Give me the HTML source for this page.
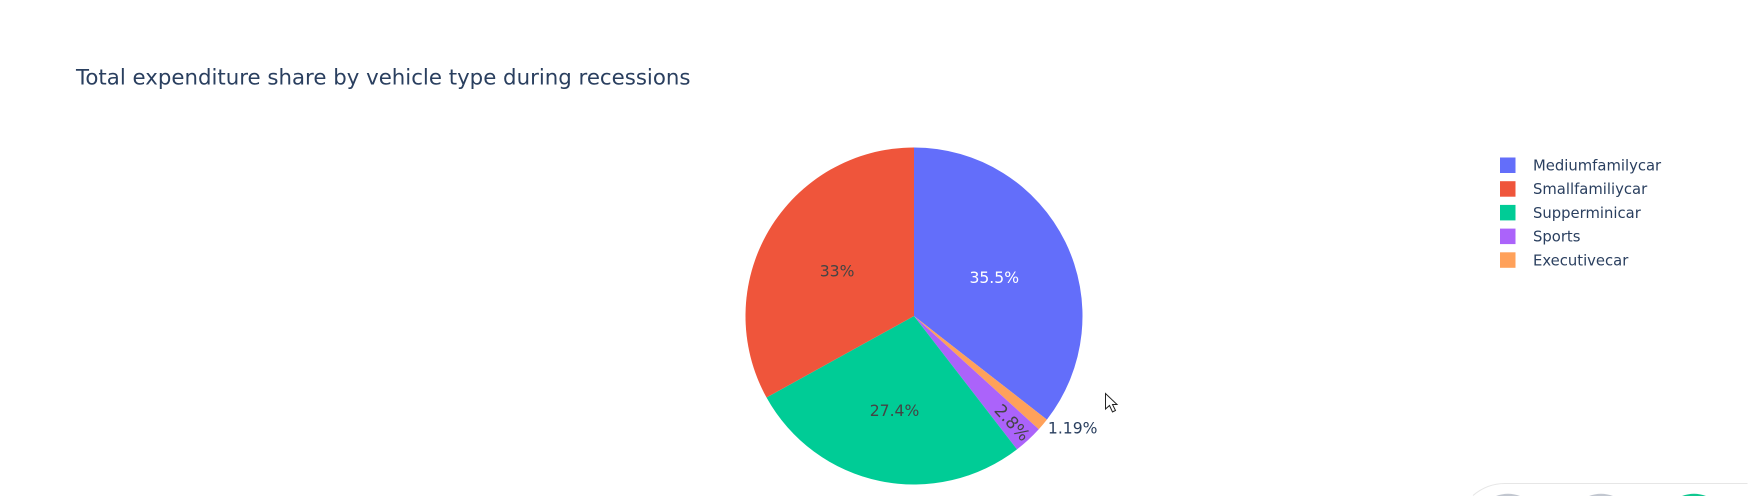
<!DOCTYPE html>
<html lang="en">
<head>
<meta charset="utf-8">
<title>Total expenditure share by vehicle type during recessions</title>
<style>
html,body{margin:0;padding:0;background:#fff;width:1748px;height:496px;overflow:hidden}
svg{display:block}
text{font-family:"DejaVu Sans","Liberation Sans",sans-serif}
</style>
</head>
<body>
<svg id="chart" width="1748" height="496" viewBox="0 0 1748 496" xmlns="http://www.w3.org/2000/svg">
  <text x="76" y="84.5" font-size="21.3" fill="#2a3f5f">Total expenditure share by vehicle type during recessions</text>
  <g id="slices"></g>
  <g id="labels"></g>
  <g id="legend"></g>
  <path d="M1105.5 393.5 L1105.5 409 L1109.5 405.5 L1112.5 412 L1115.5 410.5 L1112.5 404.5 L1117 404.5 Z" fill="#fff" stroke="#222" stroke-width="1"/>
  <g>
    <path d="M1473 495.5 Q1487 483.5 1505 483.5 L1747.5 483.5" fill="none" stroke="#e6e6e6" stroke-width="1"/>
    <path d="M1496 496 Q1508 491.5 1520 496 Z" fill="#c2c7d0"/>
    <path d="M1589 496 Q1601 491.5 1613 496 Z" fill="#c2c7d0"/>
    <path d="M1682 496 Q1694 491.5 1706 496 Z" fill="#10c890"/>
  </g>
</svg>
<script>
const categories = ["Mediumfamilycar", "Executivecar", "Sports", "Supperminicar", "Smallfamiliycar"];
const shares = [35.5, 1.19, 2.8, 27.4, 33];
const shareLabels = ["35.5%", "1.19%", "2.8%", "27.4%", "33%"];
const legendOrder = ["Mediumfamilycar", "Smallfamiliycar", "Supperminicar", "Sports", "Executivecar"];
const colors = {Mediumfamilycar:"#636efa", Smallfamiliycar:"#ef553b", Supperminicar:"#00cc96", Sports:"#ab63fa", Executivecar:"#ffa15a"};

const NS = "http://www.w3.org/2000/svg";
const cx = 914, cy = 316, R = 168.5;
const total = shares.reduce((a, b) => a + b, 0);
const angleOf = v => v / total * Math.PI * 2;
const px = (a, r) => cx + r * Math.sin(a);
const py = (a, r) => cy - r * Math.cos(a);

const slicesG = document.getElementById("slices");
const labelsG = document.getElementById("labels");
let acc = 0;
shares.forEach((v, i) => {
  const a0 = angleOf(acc), a1 = angleOf(acc + v), mid = (a0 + a1) / 2;
  acc += v;
  const path = document.createElementNS(NS, "path");
  const large = a1 - a0 > Math.PI ? 1 : 0;
  path.setAttribute("d", `M${cx} ${cy} L${px(a0, R)} ${py(a0, R)} A${R} ${R} 0 ${large} 1 ${px(a1, R)} ${py(a1, R)} Z`);
  path.setAttribute("fill", colors[categories[i]]);
  
  
  slicesG.appendChild(path);

  const t = document.createElementNS(NS, "text");
  t.textContent = shareLabels[i];
  t.setAttribute("font-size", "15.6");
  const pct = v / total * 100;
  if (pct < 2) {
    t.setAttribute("x", px(mid, R) + 5);
    t.setAttribute("y", py(mid, R) + 9);
    t.setAttribute("fill", "#2a3f5f");
  } else if (pct < 10) {
    const lx = px(mid, R * 0.86), ly = py(mid, R * 0.86);
    t.setAttribute("x", lx);
    t.setAttribute("y", ly + 6);
    t.setAttribute("font-size", "16.8");
    t.setAttribute("text-anchor", "middle");
    t.setAttribute("transform", `rotate(${mid * 180 / Math.PI - 90} ${lx} ${ly})`);
    t.setAttribute("fill", "#444");
  } else {
    const r = R * (pct >= 30 ? 0.53 : 0.57);
    t.setAttribute("x", px(mid, r));
    t.setAttribute("y", py(mid, r) + 6);
    t.setAttribute("text-anchor", "middle");
    t.setAttribute("fill", categories[i] === "Mediumfamilycar" ? "#fff" : "#444");
  }
  
  
  labelsG.appendChild(t);
});

const legendG = document.getElementById("legend");
legendOrder.forEach((name, i) => {
  const top = 157.5 + i * 23.7;
  const rect = document.createElementNS(NS, "rect");
  rect.setAttribute("x", 1500);
  rect.setAttribute("y", top);
  rect.setAttribute("width", 15.5);
  rect.setAttribute("height", 15.5);
  rect.setAttribute("fill", colors[name]);
  
  
  legendG.appendChild(rect);
  const t = document.createElementNS(NS, "text");
  t.textContent = name;
  t.setAttribute("x", 1533);
  t.setAttribute("y", top + 13);
  t.setAttribute("font-size", "14.8");
  t.setAttribute("fill", "#2a3f5f");
  
  
  legendG.appendChild(t);
});
</script>
</body>
</html>
